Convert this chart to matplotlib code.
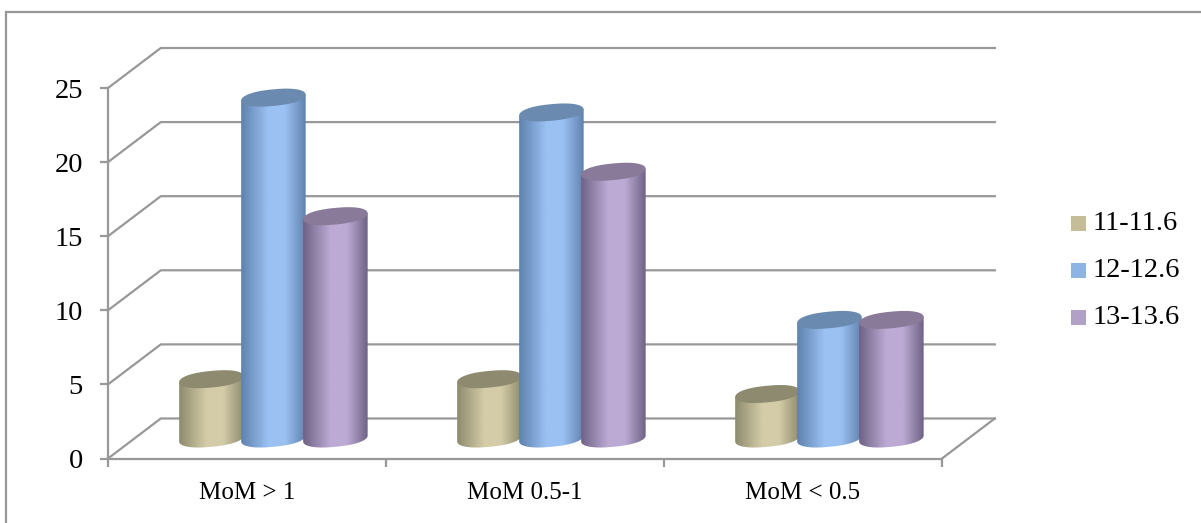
import numpy as np
import matplotlib
matplotlib.use('Agg')
import matplotlib.pyplot as plt
from matplotlib.colors import LinearSegmentedColormap
from matplotlib.patches import Polygon, Rectangle

plt.rcParams['font.family'] = ['Liberation Serif', 'DejaVu Serif']

categories = ['MoM > 1', 'MoM 0.5-1', 'MoM < 0.5']
series_names = ['11-11.6', '12-12.6', '13-13.6']
series_values = [
    [4, 4, 3],
    [23, 22, 8],
    [15, 18, 8],
]
yticks = [0, 5, 10, 15, 20, 25]

legend_colors = ['#c4bd97', '#8eb4e3', '#b2a1c7']
edge_colors = ['#8e8b6e', '#5f82ad', '#6f6285']
mid_colors = ['#d4cca8', '#9bc1f3', '#bcaad4']
top_colors = ['#8d8a6f', '#6a8ab0', '#8a7a99']

W, H = 1201, 523
fig = plt.figure(figsize=(W / 100, H / 100), dpi=100)

# axes box is the front plane of the 3D chart
ax = fig.add_axes([108 / W, 1 - 458.5 / H, 834 / W, 370.5 / H])
ax.set_xlim(0, 3)
ax.set_ylim(0, 25)
ax.patch.set_alpha(0)

grey = '#989898'
lw = 1.6
for name in ['top', 'right']:
    ax.spines[name].set_visible(False)
for name in ['left', 'bottom']:
    ax.spines[name].set_color(grey)
    ax.spines[name].set_linewidth(lw)

ax.set_xticks([0, 1, 2, 3])
ax.set_xticklabels([])
ax.set_xticks([0.5, 1.5, 2.5], labels=categories, minor=True)
ax.tick_params(axis='x', which='major', length=6, width=lw, color=grey)
ax.tick_params(axis='x', which='minor', length=0, pad=17, labelsize=18)
ax.set_yticks(yticks)
ax.tick_params(axis='y', length=6, width=lw, color=grey, pad=12, labelsize=20.5)

# depth of the chart floor, in data units
depth_x = 0.19
depth_y = 2.7

for v in yticks:
    ax.plot([0, depth_x, 3 + depth_x], [v, v + depth_y, v + depth_y],
            color=grey, lw=lw, clip_on=False, zorder=1)
ax.plot([3, 3 + depth_x], [0, depth_y], color=grey, lw=lw, clip_on=False, zorder=1)

# cylinders overlap a little, each one sits on top of the previous series
spacing = 0.223
bar_w = 0.232
offsets = [-spacing, 0, spacing]
rx = bar_w / 2
ry = 0.56
tilt = 0.2

t = np.linspace(0, 2 * np.pi, 200)
lower = np.linspace(np.pi, 2 * np.pi, 100)


def squircle(a):
    # slightly squared-off ellipse, the bevel rounds the cylinder ends this way
    c = np.sign(np.cos(a)) * np.abs(np.cos(a)) ** 0.85
    s = np.sign(np.sin(a)) * np.abs(np.sin(a)) ** 0.95
    return c, s


def draw_cylinder(cx, base, height, i, z):
    top = base + height
    # side of the cylinder: top edge, then front half of the base ellipse
    c, s = squircle(lower)
    xs = cx + rx * c
    ys = base + ry * s + tilt * c
    outline = np.vstack([[cx - rx, top - tilt], np.column_stack([xs, ys]), [cx + rx, top + tilt]])
    body = Polygon(outline, closed=True, fc='none', ec='none', zorder=z)
    ax.add_patch(body)
    cmap = LinearSegmentedColormap.from_list('c', [(0, edge_colors[i]), (0.42, mid_colors[i]),
                                                   (0.68, mid_colors[i]), (1, edge_colors[i])])
    im = ax.imshow(np.linspace(0, 1, 128).reshape(1, -1), cmap=cmap, aspect='auto', zorder=z,
                   extent=[cx - rx, cx + rx, base - 1, top + 1], interpolation='bilinear')
    im.set_clip_path(body)
    c, s = squircle(t)
    ax.fill(cx + rx * c, top + ry * s + tilt * c, color=top_colors[i], lw=0, zorder=z + 0.1)


for j in range(len(categories)):
    cx0 = j + 0.5 + depth_x / 2
    for i in range(len(series_names)):
        draw_cylinder(cx0 + offsets[i], depth_y / 2, series_values[i][j], i, 3 + i)

ax.set_xlim(0, 3)
ax.set_ylim(0, 25)

# legend drawn by hand so the swatches sit close to the labels
for k, name in enumerate(series_names):
    y = 1 - (223.5 + 47 * k) / H
    fig.add_artist(Rectangle((1071 / W, y - 7.5 / H), 15 / W, 15 / H, fc=legend_colors[k], ec='none',
                             transform=fig.transFigure))
    fig.text(1093 / W, y, name, fontsize=20.4, va='center', ha='left')

# chart frame, only its top and left edges fall inside the image
frame_color = '#979797'
fig.add_artist(Rectangle((6 / W, -5 / H), 1300 / W, (H - 12 + 5) / H, fc='none', ec=frame_color, lw=lw,
                         transform=fig.transFigure))

fig.savefig('out.png', dpi=100)
